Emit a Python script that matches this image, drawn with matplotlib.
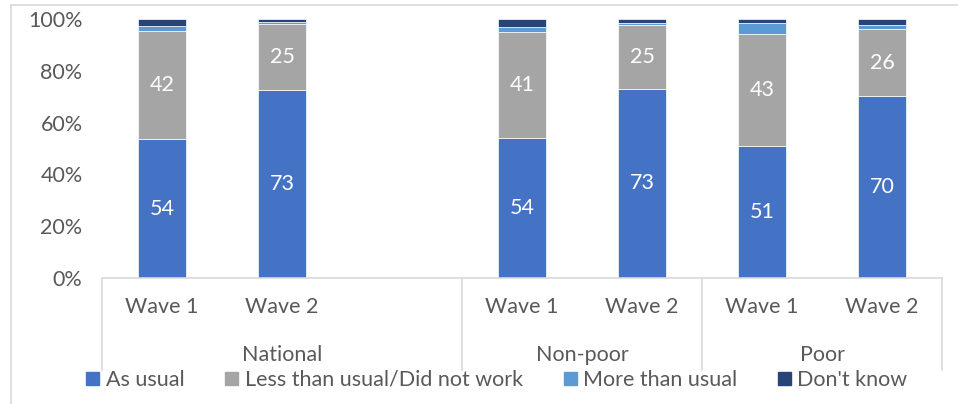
import numpy as np
import matplotlib.pyplot as plt
from matplotlib.lines import Line2D
from matplotlib.patches import Patch
from matplotlib.transforms import blended_transform_factory

plt.rcParams['font.family'] = ['Lato', 'DejaVu Sans']

# slots: National W1, W2, (gap), Non-poor W1, W2, Poor W1, W2
positions = [0, 1, 3, 4, 5, 6]
wave_labels = ['Wave 1', 'Wave 2', 'Wave 1', 'Wave 2', 'Wave 1', 'Wave 2']
groups = ['National', 'Non-poor', 'Poor']

as_usual = [53.6, 72.7, 54.0, 73.0, 51.0, 70.2]
less_usual = [41.8, 25.3, 41.0, 24.8, 43.2, 26.0]
more_usual = [1.9, 0.9, 1.9, 0.8, 4.1, 1.5]
dont_know = [2.7, 1.1, 3.1, 1.4, 1.7, 2.3]

series = [
    ('As usual', as_usual, '#4472C4'),
    ('Less than usual/Did not work', less_usual, '#A5A5A5'),
    ('More than usual', more_usual, '#5B9BD5'),
    ("Don't know", dont_know, '#264478'),
]
label_text = {'As usual': [54, 73, 54, 73, 51, 70],
              'Less than usual/Did not work': [42, 25, 41, 25, 43, 26]}

txt = '#595959'
fs = 15.5
fig = plt.figure(figsize=(9.58, 4.04), dpi=100)
ax = fig.add_axes([102 / 958, 1 - 278 / 404, 840 / 958, 259 / 404])

bottom = np.zeros(len(positions))
for name, vals, col in series:
    vals = np.array(vals)
    ax.bar(positions, vals, width=0.4, bottom=bottom, color=col,
           edgecolor='white', linewidth=0.5, label=name)
    if name in label_text:
        for x, b, v, t in zip(positions, bottom, vals, label_text[name]):
            ax.text(x, b + v / 2, str(t), ha='center', va='center',
                    color='white', fontsize=fs)
    bottom += vals

ax.set_xlim(-0.5, 6.5)
ax.set_ylim(0, 100)
ax.set_yticks(np.arange(0, 101, 20))
ax.set_yticklabels([f'{v}%' for v in range(0, 101, 20)])
ax.tick_params(axis='y', length=0, labelsize=fs, labelcolor=txt, pad=14)
ax.set_xticks([])
for s in ['top', 'right', 'left']:
    ax.spines[s].set_visible(False)
ax.spines['bottom'].set_color('#D9D9D9')
ax.spines['bottom'].set_linewidth(1.2)

# two-level category axis
tr = blended_transform_factory(ax.transData, ax.transAxes)
px = 1 / 259
for x, lab in zip(positions, wave_labels):
    ax.text(x, -29 * px, lab, transform=tr, ha='center', va='center',
            fontsize=fs, color=txt)
for x, g in zip([1, 3.5, 5.5], groups):
    ax.text(x, -77 * px, g, transform=tr, ha='center', va='center',
            fontsize=fs, color=txt)
for x in [-0.5, 2.5, 4.5, 6.5]:
    ax.add_line(Line2D([x, x], [0, -92 * px], transform=tr, color='#D9D9D9',
                       linewidth=1.2, clip_on=False))

handles = [Patch(color=c, label=n) for n, _, c in series]
fig.legend(handles=handles, loc='center', bbox_to_anchor=(497 / 958, 1 - 380 / 404),
           ncol=4, frameon=False, fontsize=fs, handlelength=0.6, handleheight=0.6,
           handletextpad=0.3, columnspacing=1.9, labelcolor=txt, borderpad=0)

# chart area border
fig.add_artist(Line2D([10.5 / 958, 1], [1 - 4.5 / 404, 1 - 4.5 / 404],
                      transform=fig.transFigure, color='#D9D9D9', linewidth=1.2))
fig.add_artist(Line2D([10.5 / 958, 10.5 / 958], [0, 1 - 4.5 / 404],
                      transform=fig.transFigure, color='#D9D9D9', linewidth=1.2))

fig.savefig('out.png', dpi=100)
